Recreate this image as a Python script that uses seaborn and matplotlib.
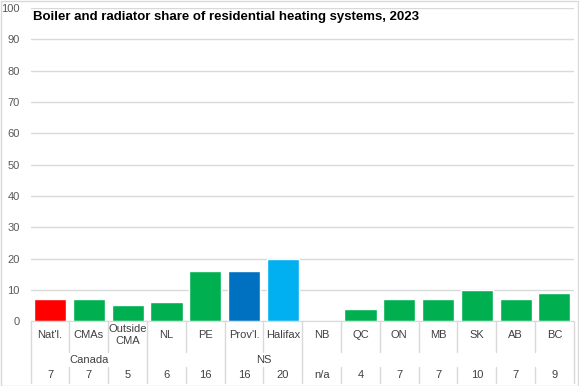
import numpy as np
import pandas as pd
import matplotlib
matplotlib.use("Agg")
import matplotlib.pyplot as plt
import matplotlib.transforms as mtransforms
import seaborn as sns

# data
categories = ["Nat'l.", "CMAs", "Outside\nCMA", "NL", "PE", "Prov'l.", "Halifax",
              "NB", "QC", "ON", "MB", "SK", "AB", "BC"]
shares = [7, 7, 5, 6, 16, 16, 20, np.nan, 4, 7, 7, 10, 7, 9]
value_labels = ["7", "7", "5", "6", "16", "16", "20", "n/a", "4", "7", "7", "10", "7", "9"]
groups = [("Canada", 0, 2), ("NS", 5, 6)]
bar_colors = ["#FF0000", "#00B050", "#00B050", "#00B050", "#00B050", "#0070C0", "#00B0F0",
              "#00B050", "#00B050", "#00B050", "#00B050", "#00B050", "#00B050", "#00B050"]

sns.set_style("white")
plt.rcParams['font.family'] = ['Liberation Sans Narrow', 'Liberation Sans', 'DejaVu Sans']

df = pd.DataFrame({"cat": categories, "share": shares})

fig = plt.figure(figsize=(5.79, 3.86), dpi=100)
ax = fig.add_axes([0.053, 0.168, 0.938, 0.811])

sns.barplot(data=df, x="cat", y="share", hue="cat", palette=bar_colors,
            legend=False, width=0.83, ax=ax, saturation=1)

ax.set_ylim(0, 100)
ax.set_xlim(-0.5, len(categories) - 0.5)
ax.set_yticks(range(0, 101, 10))
ax.yaxis.grid(True, color="#D9D9D9", linewidth=1)
ax.set_axisbelow(True)
ax.tick_params(axis="y", labelsize=8, colors="#595959", length=0, pad=8)
ax.set_xticks([])
ax.set_xlabel("")
ax.set_ylabel("")
for s in ["left", "right", "top"]:
    ax.spines[s].set_visible(False)
ax.spines["bottom"].set_color("#D9D9D9")

trans = mtransforms.blended_transform_factory(ax.transData, ax.transAxes)
lab_color = "#404040"
for i, c in enumerate(categories):
    ax.text(i, -0.045, c, transform=trans, ha="center", va="center",
            fontsize=8, color=lab_color, linespacing=1.2)
    ax.text(i, -0.173, value_labels[i], transform=trans, ha="center", va="center",
            fontsize=8, color=lab_color)
for name, a, b in groups:
    ax.text((a + b) / 2, -0.123, name, transform=trans, ha="center", va="center",
            fontsize=8, color=lab_color)

full = {-0.5, 2.5, 4.5, 6.5, 13.5}
for k in range(len(categories) + 1):
    x = k - 0.5
    if x in full:
        ax.plot([x, x], [0, -0.198], transform=trans, color="#D9D9D9",
                linewidth=1, clip_on=False)
    else:
        ax.plot([x, x], [0, -0.1], transform=trans, color="#D9D9D9",
                linewidth=1, clip_on=False)
        ax.plot([x, x], [-0.148, -0.198], transform=trans, color="#D9D9D9",
                linewidth=1, clip_on=False)

fig.text(0.057, 0.955, "Boiler and radiator share of residential heating systems, 2023",
         fontsize=9.5, fontweight="bold", ha="left", va="center", color="#000000")

fig.patches.append(plt.Rectangle((0.001, 0.001), 0.998, 0.997, transform=fig.transFigure,
                                 fill=False, edgecolor="#D9D9D9", linewidth=1))

fig.savefig("out.png", dpi=100)
